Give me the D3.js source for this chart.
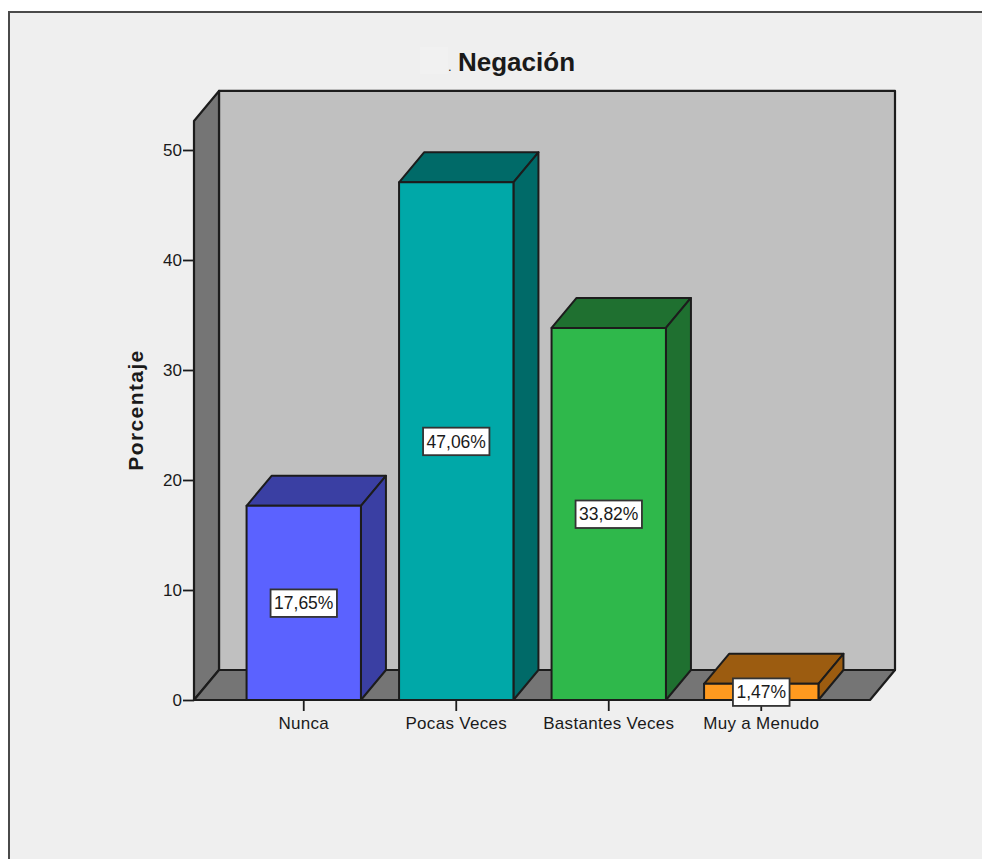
<!DOCTYPE html>
<html lang="es">
<head>
<meta charset="utf-8">
<title>Negación</title>
<script src="https://cdn.jsdelivr.net/npm/d3@7"></script>
<style>
  html, body { margin: 0; padding: 0; background: #fff; overflow: hidden; }
  svg { display: block; }
  text { font-family: "Liberation Sans", Arial, sans-serif; fill: #1a1a1a; }
</style>
</head>
<body>
<svg id="chart" width="982" height="859"></svg>
<script>
const categories = ["Nunca", "Pocas Veces", "Bastantes Veces", "Muy a Menudo"];
const percentages = [17.65, 47.06, 33.82, 1.47];
const percentLabels = ["17,65%", "47,06%", "33,82%", "1,47%"];
const frontColors = ["#5b62ff", "#00a8a8", "#2fb84b", "#ff9a1f"];
const sideColors = ["#3a3fa3", "#006a68", "#1f7030", "#9c5c10"];
const yTicks = [0, 10, 20, 30, 40, 50];
const titleText = "Negación";
const yAxisTitle = "Porcentaje";

const svg = d3.select("#chart");
const ink = "#1c1c1c";

// Oblique offset that gives the plot box and the bars their depth.
const depthX = 25, depthY = -30;
const floorY = 700, axisX = 194, axisEndX = 870;

const y = d3.scaleLinear().domain([0, 50]).range([floorY, 150]);
const yMax = 52.64;
const x = d3.scaleBand().domain(categories).range([227.5, 837.5]).paddingInner(0.25).paddingOuter(0.125);

const poly = pts => pts.map(p => p.join(",")).join(" ");

// Chart frame, running off the right and bottom edges.
svg.append("rect").attr("x", 9).attr("y", 12).attr("width", 1000).attr("height", 900)
  .attr("fill", "#efefef").attr("stroke", "#4a4a4a").attr("stroke-width", 2);

// Title, with a small stray dot on a slightly lighter patch before it.
svg.append("rect").attr("x", 420).attr("y", 47).attr("width", 28).attr("height", 27).attr("fill", "#f1f1f1");
svg.append("text").attr("x", 516.5).attr("y", 71).attr("text-anchor", "middle")
  .attr("font-size", 26).attr("font-weight", "bold").text(titleText);
svg.append("text").attr("x", 448).attr("y", 71).attr("font-size", 13).text(".");

// Plot box: back wall, left wall and floor.
const boxTop = y(yMax);
const room = svg.append("g").attr("stroke", ink).attr("stroke-width", 2.2).attr("stroke-linejoin", "round");
room.append("polygon").attr("fill", "#c0c0c0").attr("points", poly([
  [axisX + depthX, boxTop + depthY], [axisEndX + depthX, boxTop + depthY],
  [axisEndX + depthX, floorY + depthY], [axisX + depthX, floorY + depthY]]));
room.append("polygon").attr("fill", "#757575").attr("points", poly([
  [axisX, boxTop], [axisX + depthX, boxTop + depthY],
  [axisX + depthX, floorY + depthY], [axisX, floorY]]));
room.append("polygon").attr("fill", "#757575").attr("points", poly([
  [axisX, floorY], [axisX + depthX, floorY + depthY],
  [axisEndX + depthX, floorY + depthY], [axisEndX, floorY]]));

// Value axis.
const yAxis = svg.append("g").attr("transform", `translate(${axisX},0)`)
  .call(d3.axisLeft(y).tickValues(yTicks).tickSize(11).tickPadding(1).tickFormat(d3.format("d")));
yAxis.select(".domain").remove();
yAxis.selectAll("line").attr("stroke", ink).attr("stroke-width", 1.8);
yAxis.selectAll("text").attr("font-size", 17).attr("font-family", null);

// Category axis.
const xAxis = svg.append("g").attr("transform", `translate(0,${floorY})`)
  .call(d3.axisBottom(x).tickSize(11).tickPadding(6));
xAxis.select(".domain").remove();
xAxis.selectAll("line").attr("stroke", ink).attr("stroke-width", 1.8);
xAxis.selectAll("text").attr("font-size", 17).attr("letter-spacing", 0.3).attr("font-family", null);

// Bars drawn as oblique boxes.
const bars = svg.append("g").selectAll("g").data(categories).join("g")
  .attr("stroke", ink).attr("stroke-width", 2).attr("stroke-linejoin", "round");

bars.each(function (c, i) {
  const g = d3.select(this);
  const x0 = x(c), x1 = x0 + x.bandwidth(), yt = y(percentages[i]);
  g.append("polygon").attr("fill", sideColors[i]).attr("points", poly([
    [x0, yt], [x0 + depthX, yt + depthY], [x1 + depthX, yt + depthY], [x1, yt]]));
  g.append("polygon").attr("fill", sideColors[i]).attr("points", poly([
    [x1, yt], [x1 + depthX, yt + depthY], [x1 + depthX, floorY + depthY], [x1, floorY]]));
  g.append("rect").attr("x", x0).attr("y", yt).attr("width", x1 - x0).attr("height", floorY - yt)
    .attr("fill", frontColors[i]);
});

// Value labels in white boxes at mid-height of each bar.
categories.forEach((c, i) => {
  const cx = x(c) + x.bandwidth() / 2;
  const cy = y(percentages[i] / 2);
  const g = svg.append("g");
  const box = g.append("rect").attr("fill", "#fff").attr("stroke", "#333").attr("stroke-width", 1.8);
  const label = g.append("text").attr("x", cx).attr("y", cy + 6.5).attr("text-anchor", "middle")
    .attr("font-size", 17.5).text(percentLabels[i]);
  const w = label.node().getComputedTextLength() + 7;
  box.attr("x", cx - w / 2).attr("y", cy - 13.5).attr("width", w).attr("height", 27.5);
});

// Value axis title.
svg.append("text").attr("transform", "translate(143,410) rotate(-90)").attr("text-anchor", "middle")
  .attr("font-size", 21).attr("letter-spacing", 1.4).attr("font-weight", "bold").text(yAxisTitle);
</script>
</body>
</html>
